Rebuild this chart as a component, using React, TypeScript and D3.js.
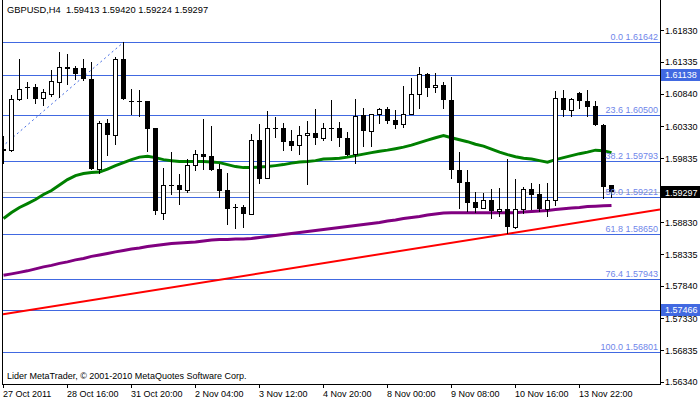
import React from 'react';
import * as d3 from 'd3';

// GBPUSD H4 candles (oldest first)
const opens = [
  1.59981, 1.59966, 1.60760, 1.60947, 1.60947, 1.60776, 1.60838, 1.61025, 1.61259, 1.61243,
  1.61243, 1.61072, 1.59670, 1.60386, 1.60199, 1.61383, 1.60729, 1.60724, 1.60729, 1.60308,
  1.58984, 1.59420, 1.59420, 1.59342, 1.59732, 1.59903, 1.59872, 1.59670, 1.59342, 1.59077,
  1.59077, 1.58968, 1.60121, 1.59529, 1.60308, 1.60308, 1.60106, 1.60043, 1.60199, 1.60230,
  1.60152, 1.60308, 1.60308, 1.60152, 1.59903, 1.60511, 1.60262, 1.60527, 1.60604, 1.60433,
  1.60371, 1.60527, 1.60838, 1.61150, 1.60947, 1.60978, 1.60745, 1.59654, 1.59467, 1.59155,
  1.59062, 1.59187, 1.59000, 1.59031, 1.58750, 1.59031, 1.59358, 1.59280, 1.59031, 1.59187,
  1.60776, 1.60589, 1.60854, 1.60729, 1.60651, 1.60355, 1.59413,
];
const highs = [
  1.60184, 1.60823, 1.61383, 1.61025, 1.60994, 1.60916, 1.61212, 1.61492, 1.61461, 1.61274,
  1.61383, 1.61337, 1.60417, 1.60449, 1.61415, 1.61642, 1.60916, 1.60900, 1.60729, 1.60308,
  1.59685, 1.59934, 1.59592, 1.59825, 1.59966, 1.60449, 1.60339, 1.59747, 1.59607, 1.59124,
  1.59109, 1.60215, 1.60371, 1.60573, 1.60480, 1.60386, 1.60277, 1.60339, 1.60417, 1.60604,
  1.60386, 1.60745, 1.60402, 1.60246, 1.60760, 1.60620, 1.60530, 1.60620, 1.60636, 1.60589,
  1.60963, 1.61087, 1.61259, 1.61155, 1.61165, 1.61025, 1.61103, 1.59934, 1.59654, 1.59311,
  1.59296, 1.59358, 1.59374, 1.59825, 1.59514, 1.59389, 1.59451, 1.59436, 1.59451, 1.60885,
  1.60900, 1.60765, 1.60860, 1.60900, 1.60729, 1.60360, 1.59420,
];
const lows = [
  1.59763, 1.59950, 1.60745, 1.60776, 1.60698, 1.60667, 1.60807, 1.60791, 1.60994, 1.61072,
  1.61056, 1.59662, 1.59607, 1.59888, 1.60059, 1.60752, 1.60527, 1.60495, 1.59950, 1.58953,
  1.58875, 1.59280, 1.59124, 1.59311, 1.59654, 1.59670, 1.59650, 1.59233, 1.58797, 1.58735,
  1.58750, 1.58960, 1.59451, 1.59525, 1.60168, 1.59966, 1.59966, 1.59903, 1.59436, 1.60059,
  1.60121, 1.60121, 1.60028, 1.59880, 1.59763, 1.60028, 1.60028, 1.60386, 1.60386, 1.60308,
  1.60324, 1.60520, 1.60620, 1.60807, 1.60869, 1.60620, 1.59529, 1.59062, 1.59000, 1.58995,
  1.59055, 1.58891, 1.58937, 1.58657, 1.58745, 1.58984, 1.59046, 1.59000, 1.58922, 1.59109,
  1.60495, 1.60495, 1.60620, 1.60495, 1.60350, 1.59218, 1.59224,
];
const closes = [
  1.59950, 1.60760, 1.60916, 1.60932, 1.60760, 1.60869, 1.61041, 1.61259, 1.61228, 1.61150,
  1.61072, 1.59670, 1.60386, 1.60199, 1.61383, 1.60760, 1.60721, 1.60729, 1.60293, 1.59000,
  1.59420, 1.59412, 1.59342, 1.59732, 1.59903, 1.59856, 1.59654, 1.59327, 1.59046, 1.59062,
  1.58968, 1.60121, 1.59514, 1.60308, 1.60300, 1.60090, 1.60028, 1.60199, 1.60230, 1.60152,
  1.60308, 1.60300, 1.60152, 1.59888, 1.60495, 1.60262, 1.60527, 1.60604, 1.60417, 1.60355,
  1.60527, 1.60838, 1.61150, 1.60932, 1.60978, 1.60745, 1.59654, 1.59451, 1.59140, 1.59062,
  1.59187, 1.59015, 1.59031, 1.58750, 1.59031, 1.59358, 1.59265, 1.59031, 1.59187, 1.60776,
  1.60589, 1.60760, 1.60729, 1.60636, 1.60355, 1.59389, 1.59297,
];

// moving averages as drawn on the chart
const maGreen = [
  1.58891, 1.58984, 1.59062, 1.59124, 1.59187, 1.59265, 1.59327, 1.59413, 1.59498, 1.59561,
  1.59592, 1.59607, 1.59615, 1.59662, 1.59716, 1.59763, 1.59810, 1.59849, 1.59864, 1.59841,
  1.59810, 1.59794, 1.59779, 1.59779, 1.59779, 1.59779, 1.59771, 1.59763, 1.59732, 1.59701,
  1.59685, 1.59685, 1.59693, 1.59701, 1.59716, 1.59732, 1.59755, 1.59771, 1.59779, 1.59794,
  1.59818, 1.59825, 1.59833, 1.59849, 1.59872, 1.59896, 1.59919, 1.59942, 1.59958, 1.59981,
  1.60005, 1.60036, 1.60075, 1.60114, 1.60152, 1.60184, 1.60152, 1.60121, 1.60090, 1.60051,
  1.60020, 1.59973, 1.59927, 1.59888, 1.59856, 1.59833, 1.59818, 1.59794, 1.59771, 1.59810,
  1.59841, 1.59872, 1.59903, 1.59927, 1.59958, 1.59950, 1.59919,
];
const maPurple = [
  1.58003, 1.58026, 1.58049, 1.58073, 1.58104, 1.58135, 1.58158, 1.58190, 1.58213, 1.58244,
  1.58267, 1.58299, 1.58322, 1.58345, 1.58369, 1.58392, 1.58415, 1.58431, 1.58454, 1.58470,
  1.58485, 1.58501, 1.58509, 1.58517, 1.58524, 1.58540, 1.58556, 1.58563, 1.58563, 1.58571,
  1.58571, 1.58579, 1.58595, 1.58610, 1.58626, 1.58641, 1.58657, 1.58672, 1.58688, 1.58704,
  1.58719, 1.58735, 1.58750, 1.58766, 1.58781, 1.58797, 1.58813, 1.58828, 1.58852, 1.58867,
  1.58891, 1.58906, 1.58922, 1.58945, 1.58961, 1.58976, 1.58979, 1.58979, 1.58979, 1.58979,
  1.58979, 1.58979, 1.58979, 1.58979, 1.58979, 1.58992, 1.59000, 1.59007, 1.59015, 1.59031,
  1.59042, 1.59054, 1.59062, 1.59077, 1.59082, 1.59088, 1.59093,
];

const timeLabels = [
  '27 Oct 2011', '28 Oct 16:00', '31 Oct 20:00', '2 Nov 04:00', '3 Nov 12:00',
  '4 Nov 20:00', '8 Nov 00:00', '9 Nov 08:00', '10 Nov 16:00', '13 Nov 22:00',
];
const barsPerLabel = 8;

// 1.59330 sits fully under the bid box in the reference, so it is left out
const priceTicks = [
  1.6183, 1.61335, 1.6084, 1.6033, 1.59835, 1.5883, 1.58335, 1.5784, 1.5733, 1.56835, 1.5634,
];

const fibNames = ['0.0', '23.6', '38.2', '50.0', '61.8', '76.4', '100.0'];
const fibPrices = [1.61642, 1.605, 1.59793, 1.59221, 1.5865, 1.57943, 1.56801];
const fibAnchorBars = [-30, 15];

const hLinePrices = [1.61138, 1.57466];
const bidPrice = 1.59297;
const trendBars = [0, 63];
const trendPrices = [1.57395, 1.5865];

const header = 'GBPUSD,H4  1.59413 1.59420 1.59224 1.59297';
const footer = 'Lider MetaTrader, \u00a9 2001-2010 MetaQuotes Software Corp.';

const W = 700;
const H = 402;
const left = 3;
const right = 660;
const bottom = 384;
const font = '"Liberation Sans", Arial, sans-serif';
const fibBlue = '#4169e1';

const App: React.FC = () => {
  const n = closes.length;
  const x = d3.scaleLinear().domain([0, n - 1]).range([left, left + 8 * (n - 1)]);
  const y = d3.scaleLinear().domain([1.56801, 1.61642]).range([352.3, 42.3]);
  const crisp = (p: number) => Math.round(y(p)) + 0.5;

  const maLine = d3
    .line<number>()
    .x((_, i) => x(i) + 0.5)
    .y((d) => y(d));

  const trendAt = (b: number) =>
    trendPrices[0] + ((b - trendBars[0]) * (trendPrices[1] - trendPrices[0])) / (trendBars[1] - trendBars[0]);
  const barRight = x.invert(right);

  return (
    <div style={{ position: 'fixed', left: 0, top: 0 }}>
      <svg width={W} height={H} style={{ display: 'block', background: '#fff' }} fontFamily={font}>
        <defs>
          <clipPath id="plot">
            <rect x={left} y={0} width={right - left} height={bottom} />
          </clipPath>
        </defs>

        <g clipPath="url(#plot)">
          {/* fibonacci levels */}
          {fibPrices.map((p) => (
            <line key={'f' + p} x1={left} x2={right} y1={crisp(p)} y2={crisp(p)} stroke={fibBlue} strokeWidth={1} />
          ))}
          {hLinePrices.map((p) => (
            <line key={'h' + p} x1={left} x2={right} y1={crisp(p)} y2={crisp(p)} stroke={fibBlue} strokeWidth={1} />
          ))}
          <line x1={left} x2={right} y1={crisp(bidPrice)} y2={crisp(bidPrice)} stroke="#c0c0c0" strokeWidth={1} />

          {/* fibo anchor line */}
          <line
            x1={x(fibAnchorBars[0])}
            y1={y(fibPrices[fibPrices.length - 1])}
            x2={x(fibAnchorBars[1]) + 0.5}
            y2={y(fibPrices[0])}
            stroke={fibBlue}
            strokeWidth={1}
            strokeDasharray="2,3"
          />

          {/* trend line */}
          <line
            x1={left}
            y1={y(trendAt(0))}
            x2={right}
            y2={y(trendAt(barRight))}
            stroke="#ff0000"
            strokeWidth={2}
          />

          <path d={maLine(maPurple) || ''} fill="none" stroke="#800080" strokeWidth={3} />
          <path d={maLine(maGreen) || ''} fill="none" stroke="#008000" strokeWidth={3} />

          {/* candles */}
          {closes.map((c, i) => {
            const o = opens[i];
            const cx = x(i);
            const yo = Math.round(y(o));
            const yc = Math.round(y(c));
            const top = Math.min(yo, yc);
            const h = Math.max(1, Math.abs(yo - yc));
            const bull = c > o;
            return (
              <g key={i}>
                <line
                  x1={cx + 0.5}
                  x2={cx + 0.5}
                  y1={Math.round(y(highs[i]))}
                  y2={Math.round(y(lows[i])) + 1}
                  stroke="#000"
                  strokeWidth={1}
                />
                {bull && h > 1 ? (
                  <rect x={cx - 1.5} y={top + 0.5} width={4} height={h} fill="#fff" stroke="#000" strokeWidth={1} />
                ) : (
                  <rect x={cx - 2} y={top} width={5} height={h} fill="#000" />
                )}
              </g>
            );
          })}
        </g>

        {/* fib labels */}
        {fibPrices.map((p, i) => (
          <text key={'fl' + p} x={658} y={crisp(p) - 2.5} fontSize={9} fill="#6f86ea" textAnchor="end">
            {fibNames[i] + ' ' + p.toFixed(5)}
          </text>
        ))}

        {/* frame */}
        <line x1={2.5} x2={2.5} y1={0} y2={bottom} stroke="#000" />
        <line x1={right + 0.5} x2={right + 0.5} y1={0} y2={bottom + 0.5} stroke="#000" />
        <line x1={2} x2={right + 1} y1={bottom + 0.5} y2={bottom + 0.5} stroke="#000" />

        {/* price axis */}
        {priceTicks.map((p) => (
          <g key={'t' + p}>
            <line x1={right + 1} x2={right + 4} y1={crisp(p)} y2={crisp(p)} stroke="#000" />
            <text x={665} y={y(p) + 3.5} fontSize={9} fill="#000">
              {p.toFixed(5)}
            </text>
          </g>
        ))}
        {hLinePrices.map((p) => (
          <g key={'hb' + p}>
            <rect x={661} y={Math.round(y(p)) - 6} width={39} height={12} fill={fibBlue} />
            <text x={665} y={y(p) + 3.5} fontSize={9} fill="#fff">
              {p.toFixed(5)}
            </text>
          </g>
        ))}
        <rect x={661} y={Math.round(y(bidPrice)) - 6} width={39} height={12} fill="#000" />
        <text x={665} y={y(bidPrice) + 3.5} fontSize={9} fill="#fff">
          {bidPrice.toFixed(5)}
        </text>

        {/* time axis */}
        {timeLabels.map((t, k) => {
          const tx = Math.round(x(k * barsPerLabel)) + 0.5;
          return (
            <g key={t}>
              <line x1={tx} x2={tx} y1={bottom} y2={bottom + 4} stroke="#000" />
              <text x={tx - 0.5} y={397} fontSize={9} fill="#000">
                {t}
              </text>
            </g>
          );
        })}

        <text x={7} y={13} fontSize={9.3} fill="#000" style={{ whiteSpace: 'pre' }}>
          {header}
        </text>
        <text x={7} y={379} fontSize={9} fill="#000">
          {footer}
        </text>
      </svg>
    </div>
  );
};

export default App;
